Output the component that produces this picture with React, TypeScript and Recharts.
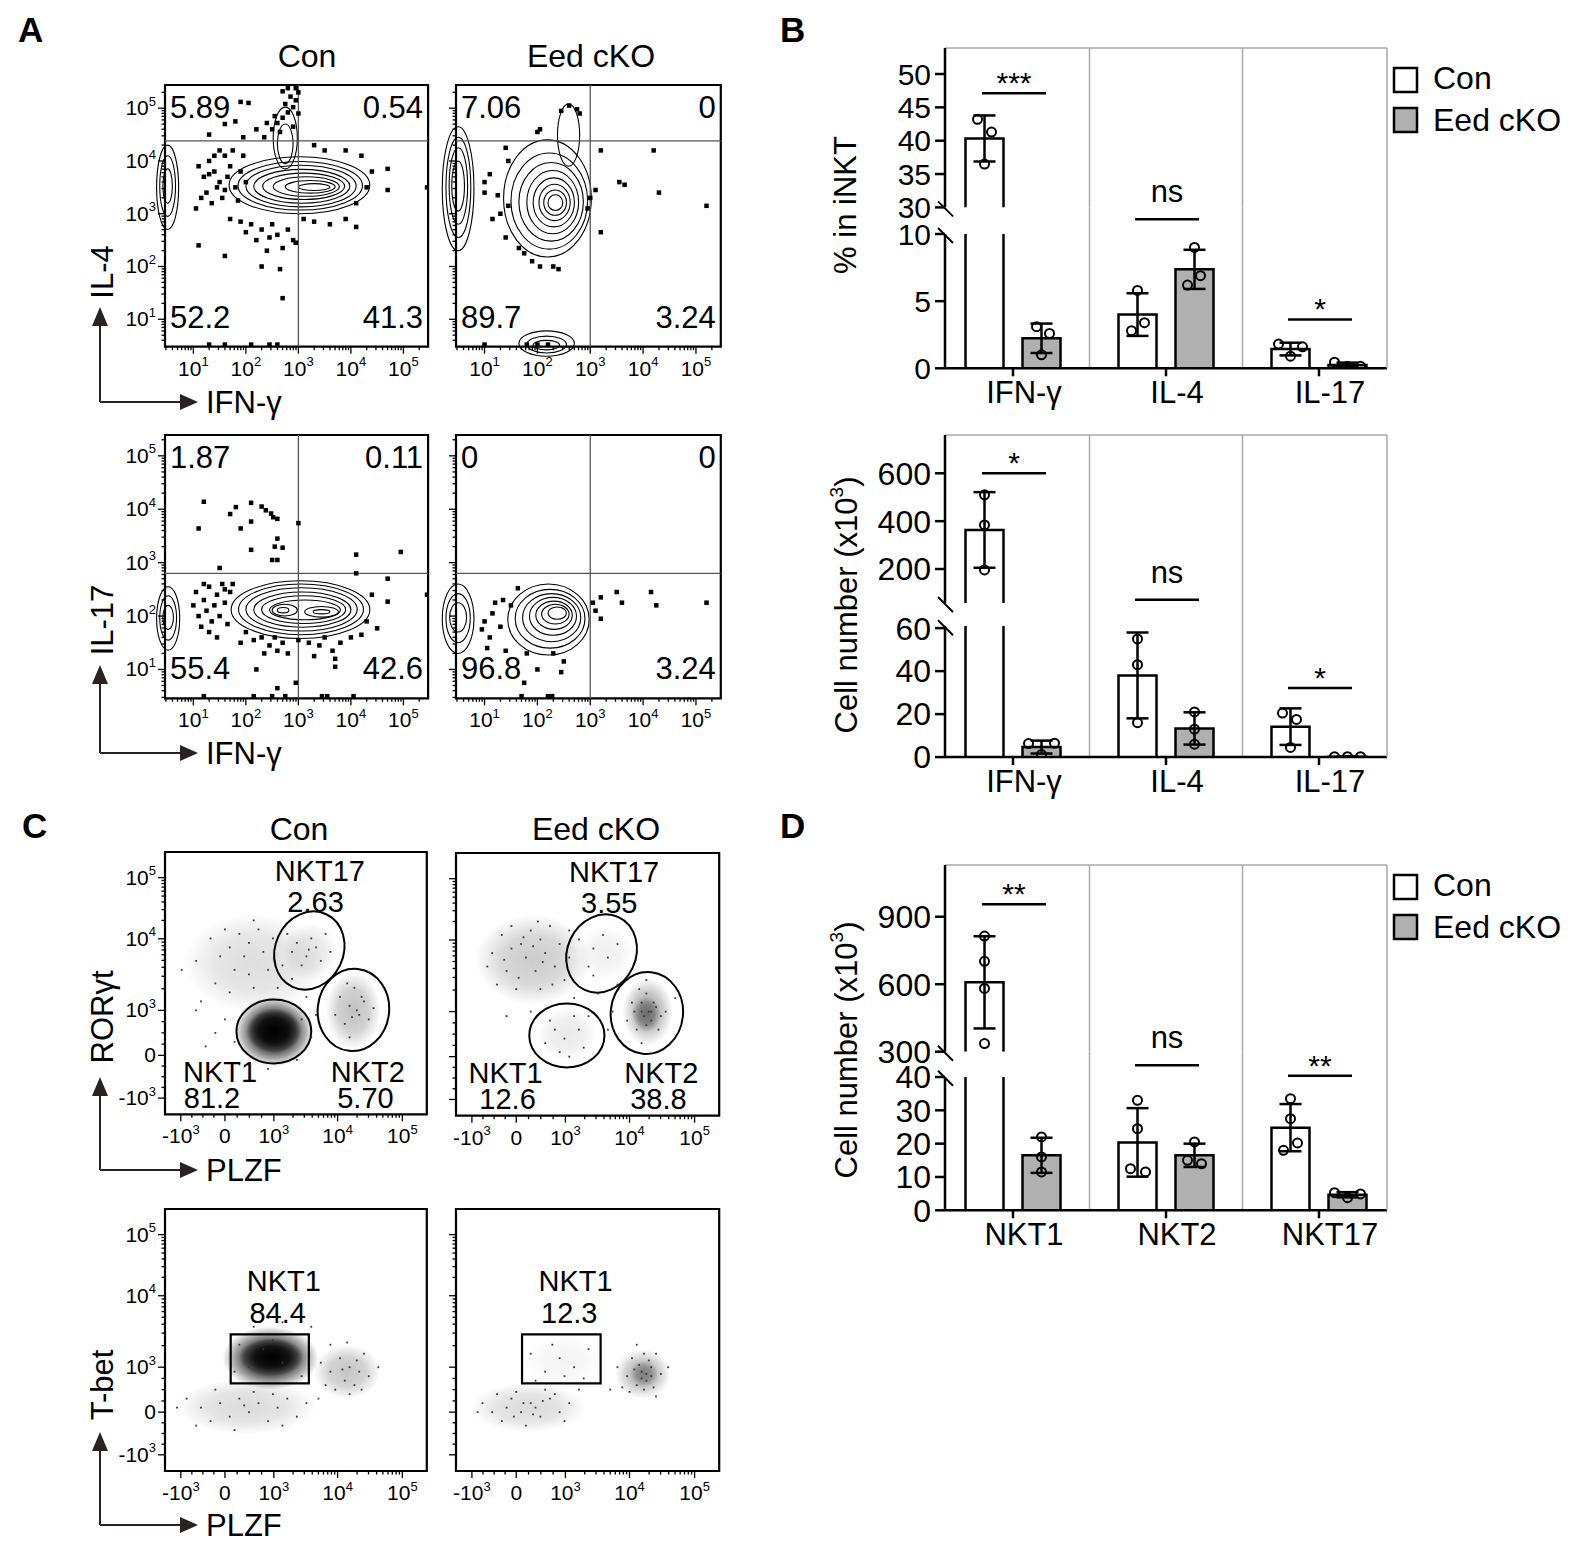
import React from 'react';
import {
  ComposedChart,
  Bar,
  Scatter,
  XAxis,
  YAxis,
  ErrorBar,
  ReferenceLine,
  ReferenceArea,
  ReferenceDot,
} from 'recharts';

const FONT = '"Liberation Sans", Arial, Helvetica, sans-serif';

// ---------------- bar chart data (B, D) ----------------
const cytokines = ['IFN-γ', 'IL-4', 'IL-17'];
const pctCon = [[43.2, 41.3, 36.5], [5.8, 3.4, 2.8], [1.8, 1.6, 0.9]];
const pctEed = [[3.1, 2.6, 1.0], [9.0, 6.9, 6.2], [0.45, 0.15, 0.15]];
const pctSig = ['***', 'ns', '*'];
const pctSigY = [47.1, 11.1, 3.64];

const cytoNumCon = [[510, 384, 196], [55, 43, 16], [20.5, 17.5, 4.5]];
const cytoNumEed = [[6.3, 6.5, 1.2], [21, 13, 6], [0.2, 0.2, 0.2]];
const cytoNumSig = ['*', 'ns', '*'];
const cytoNumSigY = [600, 71.9, 32.1];

const subsets = ['NKT1', 'NKT2', 'NKT17'];
const subsetCon = [[814, 702, 581, 336], [33, 24.5, 12.5, 11.5], [33.5, 27.5, 20.2, 18]];
const subsetEed = [[22, 16, 11.5], [20.5, 15, 14], [5.3, 3.8, 4.9]];
const subsetSig = ['**', 'ns', '**'];
const subsetSigY = [956, 43.5, 40.4];

// ---------------- flow data (A, C), log10 / display units ----------------
const logTicks = [1, 2, 3, 4, 5];
const logTickLabels = ['10^1', '10^2', '10^3', '10^4', '10^5'];
const biexXTicks = [-0.92, 0, 1.02, 2.35, 3.7];
const biexYTicks = [-0.95, 0, 1, 2.59, 3.95];
const biexTickLabels = ['-10^3', '0', '10^3', '10^4', '10^5'];

const aTopConQuad = ['5.89', '0.54', '52.2', '41.3'];
const aTopEedQuad = ['7.06', '0', '89.7', '3.24'];
const aBotConQuad = ['1.87', '0.11', '55.4', '42.6'];
const aBotEedQuad = ['0', '0', '96.8', '3.24'];

const cTopConPct = ['2.63', '81.2', '5.70']; // NKT17, NKT1, NKT2
const cTopEedPct = ['3.55', '12.6', '38.8'];
const cBotConPct = ['84.4'];
const cBotEedPct = ['12.3'];

const aTopConDots = [
  [2.35, 4.45], [2.5, 4.6], [2.6, 4.72], [2.7, 4.82], [2.8, 4.92], [2.9, 5.02], [2.95, 5.15], [3.0, 5.3],
  [2.85, 5.22], [2.75, 5.08], [2.65, 4.55], [2.9, 4.65], [3.0, 4.9], [2.55, 4.85], [2.4, 4.72], [2.2, 4.6],
  [1.95, 4.45], [1.6, 4.7], [1.3, 4.5], [1.8, 4.75], [2.95, 5.38], [2.8, 5.38], [2.7, 5.32], [1.9, 5.12], [2.05, 5.1],
  [1.1, 3.9], [1.2, 3.7], [1.3, 4.0], [1.4, 3.8], [1.5, 3.6], [1.6, 4.1], [1.7, 3.9], [1.25, 3.4], [1.35, 3.2],
  [1.45, 3.5], [1.55, 3.3], [1.65, 3.7], [1.8, 3.5], [1.9, 3.8], [1.15, 3.3], [1.05, 3.1], [1.75, 4.2], [1.95, 4.1],
  [1.5, 4.2], [1.85, 3.25], [2.0, 3.6], [1.4, 4.1], [1.6, 3.45], [1.3, 3.75],
  [1.7, 2.9], [1.9, 2.85], [2.1, 2.8], [2.3, 2.7], [2.5, 2.8], [2.6, 2.6], [2.8, 2.7], [3.1, 2.9], [3.3, 2.85],
  [3.6, 2.8], [3.9, 2.9], [4.1, 2.75], [2.2, 2.5], [2.4, 2.3], [2.7, 2.35], [2.9, 2.5], [1.1, 2.4], [1.6, 2.2],
  [2.3, 2.0], [2.65, 1.95], [2.7, 1.4], [2.95, 2.45], [2.0, 2.65], [2.45, 2.55],
  [4.3, 3.5], [4.4, 3.8], [4.2, 4.1], [4.7, 3.85], [4.7, 3.45], [5.45, 3.5], [4.1, 3.2], [3.9, 4.2], [3.3, 4.3], [3.5, 4.2],
  [1.3, 0.52], [1.6, 0.52], [2.1, 0.52], [2.45, 0.52], [2.6, 0.52],
];
const aTopEedDots = [
  [2.6, 5.05], [2.45, 4.95], [2.8, 4.9], [2.75, 4.98], [2.0, 4.55], [2.05, 4.6], [1.4, 4.25], [1.45, 4.0],
  [1.1, 3.75], [1.0, 3.6], [1.0, 3.4], [1.25, 3.35], [1.45, 3.15], [1.3, 3.0], [1.15, 2.9], [1.4, 2.55],
  [1.9, 2.1], [2.05, 2.0], [2.3, 2.0], [2.4, 1.95], [1.65, 2.35], [1.75, 2.25], [3.2, 4.2], [4.2, 4.2],
  [3.55, 3.6], [3.65, 3.55], [3.1, 3.45], [4.3, 3.4], [5.2, 3.15], [3.2, 2.65], [2.95, 3.1], [3.0, 3.3],
  [1.8, 0.52], [2.0, 0.52], [2.2, 0.52], [1.0, 0.52],
];
const aBotConDots = [
  [1.2, 4.14], [1.1, 3.64], [1.7, 3.91], [1.81, 4.04], [1.9, 3.64], [2.1, 3.77], [2.1, 4.12], [2.3, 4.05],
  [2.38, 3.98], [2.48, 3.92], [2.52, 3.85], [2.6, 3.82], [2.1, 3.24], [2.55, 3.3], [2.7, 3.28], [2.6, 3.45],
  [2.5, 3.05], [2.6, 3.05], [1.5, 2.9], [3.0, 3.74], [4.1, 3.15], [4.1, 2.8], [4.7, 2.7], [4.95, 3.2],
  [1.0, 2.2], [1.05, 2.45], [1.1, 2.0], [1.15, 1.8], [1.2, 2.3], [1.25, 2.1], [1.3, 2.55], [1.35, 1.9],
  [1.4, 2.2], [1.45, 2.4], [1.5, 2.0], [1.55, 2.6], [1.6, 2.25], [1.65, 1.85], [1.7, 2.45], [1.3, 1.7],
  [1.45, 1.6], [1.6, 2.5], [1.2, 2.6], [1.75, 2.6],
  [2.0, 1.7], [2.15, 1.55], [2.3, 1.6], [2.45, 1.45], [2.55, 1.6], [2.6, 1.35], [2.7, 1.5], [2.8, 1.3],
  [3.0, 1.55], [3.2, 1.5], [3.4, 1.45], [3.5, 1.6], [3.65, 1.35], [3.7, 1.2], [3.8, 1.5], [4.0, 1.6],
  [4.2, 1.65], [2.2, 1.0], [3.7, 1.05], [2.95, 0.75], [2.6, 0.65], [1.9, 1.5], [2.35, 1.3], [3.3, 1.25],
  [4.7, 2.27], [5.45, 2.4], [4.5, 1.77], [4.4, 2.4], [4.3, 1.9],
  [1.2, 0.5], [2.15, 0.5], [2.5, 0.5], [2.75, 0.5], [3.45, 0.5], [3.55, 0.5], [4.05, 0.5],
];
const aBotEedDots = [
  [1.63, 2.52], [1.2, 2.25], [1.35, 2.3], [1.5, 2.2], [1.0, 1.9], [0.95, 1.75], [1.3, 1.8], [1.1, 1.6],
  [1.05, 1.4], [1.4, 1.35], [1.8, 1.3], [2.0, 1.0], [2.45, 0.95], [2.5, 1.15], [2.3, 1.3], [1.75, 0.75],
  [1.7, 0.5], [2.2, 0.5], [2.28, 0.5], [3.05, 2.25], [3.2, 2.35], [3.2, 1.95], [3.5, 2.45], [3.6, 2.25],
  [4.15, 2.45], [4.25, 2.2], [5.2, 2.25], [3.1, 2.1], [1.15, 2.05],
];

const cTopConDots = [
  [-0.6, 2.1], [-0.3, 2.6], [0.0, 2.8], [0.1, 2.4], [0.3, 2.7], [0.5, 2.5], [0.7, 2.8], [0.4, 2.2], [0.8, 2.3],
  [1.0, 2.6], [0.2, 1.9], [0.5, 1.8], [0.9, 1.9], [1.2, 2.0], [-0.2, 1.6], [0.1, 1.4], [0.6, 1.5], [1.1, 1.5],
  [1.4, 1.7], [-0.5, 1.2], [-0.9, 1.9], [1.3, 2.7], [0.6, 3.0], [-0.1, 2.2],
  [1.5, 2.5], [1.7, 2.2], [1.9, 2.4], [1.6, 2.0], [2.0, 2.1], [1.8, 2.6], [2.1, 2.7], [1.4, 2.3], [1.75, 2.35], [2.2, 2.3],
  [2.4, 1.3], [2.6, 1.1], [2.8, 0.9], [2.5, 0.7], [2.9, 1.2], [2.7, 1.5], [3.0, 0.8], [2.6, 0.4], [2.3, 0.9],
  [2.75, 1.0], [2.65, 0.85], [2.85, 1.3], [2.55, 1.6], [3.1, 1.05],
  [0.2, 0.3], [0.0, 0.8], [-0.2, 0.5], [1.8, 0.4], [1.9, 0.9], [1.7, 1.3], [0.3, -0.2], [0.9, -0.3],
  [1.5, -0.1], [-0.4, 0.2], [-0.6, 1.0], [1.6, 0.8],
];
const cTopEedDots = [
  [-0.5, 2.3], [-0.3, 2.7], [-0.1, 2.9], [0.1, 2.5], [0.3, 2.8], [0.5, 2.6], [0.7, 2.9], [0.2, 2.2], [0.6, 2.3],
  [0.9, 2.5], [-0.2, 1.9], [0.4, 1.9], [0.8, 2.0], [1.1, 2.2], [-0.4, 1.6], [0.0, 1.5], [0.5, 1.5], [1.0, 1.7],
  [1.3, 2.6], [1.2, 1.3], [-0.1, 2.4], [0.35, 2.45], [0.15, 2.65], [-0.25, 2.15], [0.55, 2.1], [0.05, 1.75],
  [0.75, 1.6], [1.1, 2.8], [-0.6, 2.0], [0.45, 3.0],
  [1.6, 2.4], [1.9, 2.2], [1.8, 2.7], [2.1, 2.5], [1.5, 2.0],
  [2.4, 1.2], [2.6, 1.0], [2.8, 0.8], [2.5, 0.6], [2.9, 1.1], [2.7, 1.4], [3.0, 0.9], [2.6, 0.3], [2.3, 0.8],
  [2.75, 1.0], [2.65, 0.9], [2.85, 1.2], [2.55, 1.5], [3.1, 1.0], [2.7, 0.7], [2.6, 1.2], [2.8, 1.0],
  [2.45, 1.0], [2.95, 0.6], [2.7, 1.7],
  [0.7, 0.8], [1.0, 0.4], [1.3, 0.6], [0.9, 0.1], [1.2, 0.9], [0.6, 0.3], [1.4, 0.2], [0.8, 0.6], [1.1, 0.0], [1.5, 0.9],
  [1.7, 1.4], [1.9, 0.6], [2.0, 1.0], [1.6, 1.8], [0.3, 1.0], [-0.2, 0.9], [2.1, 1.6], [3.3, 1.3],
];
const cBotConDots = [
  [2.0, 1.1], [2.2, 0.9], [2.4, 1.2], [2.5, 0.7], [2.6, 1.0], [2.7, 0.6], [2.8, 0.9], [2.9, 1.3], [2.3, 0.5],
  [2.6, 0.4], [3.0, 0.8], [2.1, 0.6], [2.45, 0.95], [2.75, 1.15], [2.85, 0.5], [3.2, 1.0], [2.2, 1.5], [2.55, 1.55], [1.95, 0.3],
  [-0.8, 0.3], [-0.5, 0.1], [-0.3, -0.2], [-0.1, 0.2], [0.1, -0.1], [0.3, 0.3], [0.5, 0.0], [0.7, 0.2], [0.9, -0.2],
  [1.1, 0.1], [1.3, 0.3], [1.5, -0.1], [1.7, 0.2], [-0.6, -0.3], [0.2, -0.4], [0.6, 0.45], [1.0, 0.4], [-0.2, 0.5],
  [0.4, 0.15], [1.2, -0.3], [-1.0, 0.1],
  [0.3, 1.5], [0.5, 1.0], [0.8, 1.4], [1.2, 1.1], [1.5, 1.3], [0.2, 0.9], [1.6, 0.8], [1.0, 1.6],
  [1.8, 1.9], [0.6, 1.9], [1.2, 2.0], [0.9, 2.1],
];
const cBotEedDots = [
  [2.1, 1.0], [2.3, 0.8], [2.4, 1.2], [2.5, 0.6], [2.6, 0.9], [2.7, 0.7], [2.8, 1.0], [2.9, 1.3], [2.35, 0.45],
  [2.65, 0.5], [3.0, 0.85], [2.2, 0.55], [2.55, 1.05], [2.75, 1.15], [2.85, 0.55], [3.15, 1.0], [2.5, 1.5],
  [2.7, 0.85], [2.6, 0.75], [2.8, 0.8], [2.65, 1.3], [2.45, 0.95], [1.95, 0.5], [2.9, 0.35],
  [-0.7, 0.2], [-0.5, 0.0], [-0.3, -0.2], [-0.1, 0.3], [0.1, 0.0], [0.3, 0.2], [0.5, -0.1], [0.7, 0.3], [0.9, 0.0],
  [1.1, 0.2], [1.3, 0.5], [-0.4, 0.4], [0.2, -0.3], [0.6, 0.5], [0.0, 0.45], [0.4, 0.1], [0.8, 0.4], [-0.2, 0.1],
  [1.0, -0.2], [-0.8, 0.0], [0.15, 0.2], [0.55, 0.25], [0.35, -0.05], [-0.05, -0.1],
  [0.3, 1.3], [0.6, 0.9], [0.9, 1.2], [1.2, 1.0], [1.5, 1.4], [0.4, 0.7], [1.0, 0.8], [1.4, 0.75], [0.75, 1.5],
];

// contour outlines as bounding boxes [x1, x2, y1, y2]
const aTopConContours = [
  [1.68, 4.36, 3.0, 4.08], [1.85, 4.22, 3.07, 3.99], [2.0, 4.1, 3.13, 3.92], [2.15, 3.98, 3.2, 3.84],
  [2.32, 3.88, 3.27, 3.77], [2.52, 3.78, 3.33, 3.7], [2.75, 3.7, 3.39, 3.63], [3.0, 3.6, 3.44, 3.57],
  [2.52, 2.98, 3.85, 5.02], [2.6, 2.9, 3.95, 4.7],
  [0.3, 0.72, 2.7, 4.3], [0.36, 0.66, 2.95, 4.1], [0.42, 0.6, 3.2, 3.85],
];
const aTopEedContours = [
  [1.36, 3.02, 2.18, 4.4], [1.5, 2.95, 2.33, 4.15], [1.65, 2.87, 2.48, 3.97], [1.8, 2.78, 2.62, 3.82],
  [1.92, 2.7, 2.75, 3.68], [2.03, 2.62, 2.87, 3.56], [2.12, 2.55, 2.97, 3.45], [2.2, 2.48, 3.06, 3.36],
  [2.38, 2.8, 3.9, 5.08],
  [0.2, 0.8, 2.3, 4.65], [0.27, 0.74, 2.55, 4.45], [0.33, 0.68, 2.8, 4.25], [0.38, 0.62, 3.05, 4.0],
  [1.65, 2.7, 0.3, 0.78], [1.8, 2.55, 0.36, 0.68], [1.92, 2.42, 0.42, 0.6],
];
const aBotConContours = [
  [1.72, 4.36, 1.58, 2.66], [1.86, 4.24, 1.65, 2.6], [2.0, 4.12, 1.72, 2.53], [2.15, 4.0, 1.79, 2.45],
  [2.3, 3.9, 1.86, 2.38], [2.45, 3.8, 1.93, 2.3], [2.5, 2.98, 2.0, 2.22], [3.12, 3.76, 1.98, 2.18],
  [2.6, 2.82, 2.06, 2.16], [3.28, 3.6, 2.04, 2.12],
  [0.3, 0.74, 1.36, 2.55], [0.36, 0.68, 1.55, 2.38], [0.42, 0.62, 1.75, 2.2],
];
const aBotEedContours = [
  [1.44, 2.98, 1.27, 2.6], [1.58, 2.9, 1.4, 2.5], [1.72, 2.82, 1.52, 2.42], [1.85, 2.74, 1.64, 2.35],
  [1.97, 2.66, 1.75, 2.28], [2.08, 2.6, 1.85, 2.22], [2.2, 2.55, 1.94, 2.17],
  [0.2, 0.8, 1.3, 2.6], [0.27, 0.73, 1.5, 2.42], [0.34, 0.66, 1.7, 2.25],
];

// gates [x1, x2, y1, y2]
const cTopConGates = [[1.05, 2.47, 1.44, 3.22], [1.935, 3.425, 0.095, 1.925], [0.24, 1.8, -0.18, 1.24]];
const cTopEedGates = [[1.06, 2.48, 1.4, 3.18], [1.96, 3.46, 0.06, 1.88], [0.27, 1.83, -0.24, 1.18]];
const gateTilt = [25, 6, 0];
const cBotGate = [[0.12, 1.75, 0.64, 1.73]];

// density clouds [x1, x2, y1, y2]
const cTopConClouds = [[-0.85, 2.05, 0.95, 3.15], [1.2, 2.35, 1.65, 2.95], [2.1, 3.25, 0.15, 1.85], [0.2, 1.85, -0.25, 1.3], [0.45, 1.6, 0.05, 1.05]];
const cTopConTone = [['#888', 0.28], ['#888', 0.22], ['#666', 0.4], ['#000', 0.9], ['#000', 1]];
const cTopEedClouds = [[-0.85, 1.55, 1.15, 3.15], [2.2, 3.25, 0.25, 1.75], [2.4, 3.0, 0.55, 1.35], [0.45, 1.65, -0.1, 1.1], [1.3, 2.4, 1.7, 2.9]];
const cTopEedTone = [['#777', 0.38], ['#555', 0.45], ['#222', 0.5], ['#888', 0.18], ['#999', 0.15]];
const cBotConClouds = [[-0.05, 1.95, 0.5, 1.9], [0.3, 1.65, 0.8, 1.65], [1.85, 3.25, 0.3, 1.5], [-1.0, 1.9, -0.5, 0.75]];
const cBotConTone = [['#000', 0.85], ['#000', 1], ['#666', 0.38], ['#888', 0.3]];
const cBotEedClouds = [[2.05, 3.2, 0.3, 1.4], [2.35, 2.95, 0.55, 1.15], [-0.95, 1.45, -0.45, 0.65], [0.2, 1.8, 0.6, 1.7]];
const cBotEedTone = [['#555', 0.42], ['#222', 0.4], ['#888', 0.3], ['#aaa', 0.12]];

// ---------------- helpers ----------------
const mean = (a: number[]) => a.reduce((s, v) => s + v, 0) / a.length;
const sd = (a: number[]) => {
  const m = mean(a);
  return Math.sqrt(a.reduce((s, v) => s + (v - m) * (v - m), 0) / (a.length - 1));
};

const logMinor = (lo: number, hi: number) => {
  const out: number[] = [];
  for (let d = 0; d <= 5; d++) for (let k = 2; k <= 9; k++) {
    const v = d + Math.log10(k);
    if (v > lo && v < hi) out.push(v);
  }
  return out;
};
const biexMinor = (maj: number[]) => {
  const out: number[] = [];
  [0.25, 0.5, 0.75].forEach((f) => { out.push(maj[0] * f); out.push(maj[2] * f); });
  for (let k = 2; k <= 9; k++) {
    out.push(maj[2] + Math.log10(k) * (maj[3] - maj[2]));
    out.push(maj[3] + Math.log10(k) * (maj[4] - maj[3]));
  }
  return out;
};

function SupText({ x, y, label, anchor, size }: any) {
  const [base, exp] = label.split('^');
  return (
    <text x={x} y={y} textAnchor={anchor} fontSize={size} fill="#000" fontFamily={FONT}>
      {base}
      {exp ? <tspan dy={-size * 0.45} fontSize={size * 0.62}>{exp}</tspan> : null}
    </text>
  );
}

// ---------------- bar panels ----------------
const BAR = 38;
const GAP = 19;
const HALF = 28.5;
const PL = 945;
const PR = 1387;
const CL = 835;
const MR = 20;
const PAD = -8.5;
const FRAME = '#a8a8a8';
const EED_FILL = '#b0b0b0';

const openBar = (p: any) => {
  const { x, y, width, height, fill } = p;
  if (p.value == null || !isFinite(y) || !isFinite(height)) return <g />;
  return (
    <g>
      <rect x={x} y={y} width={width} height={height} fill={fill} />
      <path d={`M${x},${y + height}V${y}H${x + width}V${y + height}`} fill="none" stroke="#000" strokeWidth={2.5} />
    </g>
  );
};

function BarPanel({ cats, con, eed, sig, sigY, up, lo, tickFont, conJit, eedJit }: any) {
  const W = PR - CL + MR;
  const UPM = 30;
  const UPB = 22;
  const LOM = 70;
  const XH = 52;
  const upH = up.bottom - up.top;
  const loH = lo.bottom - lo.top;
  const ppuLo = loH / (lo.domain[1] - lo.domain[0]);
  const gapVal = lo.domain[1] + (lo.top - up.bottom) / ppuLo;

  const rows = (seg: any, isUp: boolean) =>
    cats.map((c: string, i: number) => {
      const inSeg = (v: number) => (isUp ? v >= seg.domain[0] : v <= seg.domain[1]);
      const r: any = { cat: c };
      const cm = mean(con[i]);
      const em = mean(eed[i]);
      r.con = isUp && cm < seg.domain[0] ? null : cm;
      r.conSd = inSeg(cm) ? sd(con[i]) : null;
      r.eed = isUp && em < seg.domain[0] ? null : em;
      r.eedSd = inSeg(em) ? sd(eed[i]) : null;
      con[i].forEach((v: number, j: number) => { r['c' + j] = inSeg(v) ? v : null; });
      eed[i].forEach((v: number, j: number) => { r['e' + j] = inSeg(v) ? v : null; });
      return r;
    });

  const dot = (side: number, jit: number[][], j: number) => (p: any) => {
    if (p.cy == null || !isFinite(p.cy) || p.cx == null) return <g />;
    const i = cats.indexOf(p.payload.cat);
    const dx = side * HALF + ((jit[i] && jit[i][j]) || 0);
    return <circle cx={p.cx + dx} cy={p.cy} r={4.5} fill="none" stroke="#000" strokeWidth={2} />;
  };

  const yAxisProps = {
    type: 'number' as const,
    allowDataOverflow: true,
    interval: 0,
    width: PL - CL,
    tickSize: 10,
    tickMargin: 4,
    tick: { fontSize: tickFont, fill: '#000', fontFamily: FONT },
    axisLine: { stroke: '#000', strokeWidth: 2.5 },
    tickLine: { stroke: '#000', strokeWidth: 2.5 },
  };

  const sigLine = (p: any) => (
    <line x1={p.x1 - 31} y1={p.y1} x2={p.x1 + 33} y2={p.y1} stroke="#000" strokeWidth={2.5} />
  );

  const series = (isUp: boolean) => {
    const els: any[] = [];
    els.push(
      <Bar key="bc" dataKey="con" fill="#fff" barSize={BAR} shape={openBar} isAnimationActive={false}>
        <ErrorBar dataKey="conSd" width={11} stroke="#000" strokeWidth={2.5} direction="y" />
      </Bar>,
    );
    els.push(
      <Bar key="be" dataKey="eed" fill={EED_FILL} barSize={BAR} shape={openBar} isAnimationActive={false}>
        <ErrorBar dataKey="eedSd" width={11} stroke="#000" strokeWidth={2.5} direction="y" />
      </Bar>,
    );
    const nc = Math.max(...con.map((a: number[]) => a.length));
    const ne = Math.max(...eed.map((a: number[]) => a.length));
    for (let j = 0; j < nc; j++) {
      els.push(<Scatter key={'sc' + j} dataKey={'c' + j} shape={dot(-1, conJit, j)} isAnimationActive={false} />);
    }
    for (let j = 0; j < ne; j++) {
      els.push(<Scatter key={'se' + j} dataKey={'e' + j} shape={dot(1, eedJit, j)} isAnimationActive={false} />);
    }
    sig.forEach((s: string, k: number) => {
      const belongsUp = sigY[k] >= up.domain[0];
      if (belongsUp !== isUp) return;
      els.push(
        <ReferenceLine
          key={'sl' + k}
          segment={[{ x: cats[k], y: sigY[k] }, { x: cats[k], y: sigY[k] }]}
          ifOverflow="visible"
          shape={sigLine}
        />,
      );
      els.push(
        <ReferenceDot
          key={'st' + k}
          x={cats[k]}
          y={sigY[k]}
          r={0}
          ifOverflow="visible"
          shape={(p: any) => (
            <text
              x={p.cx + 1}
              y={p.cy - (s === 'ns' ? 17 : 0)}
              textAnchor="middle"
              fontSize={s === 'ns' ? 31 : 30}
              fill="#000"
              fontFamily={FONT}
            >
              {s}
            </text>
          )}
        />,
      );
    });
    return els;
  };

  // frame separators at category boundaries
  const seps = [cats[1], cats[2]];

  return (
    <>
      <div style={{ position: 'absolute', left: CL, top: up.top - UPM }}>
        <ComposedChart
          width={W}
          height={UPM + upH + UPB}
          data={rows(up, true)}
          margin={{ top: UPM, right: MR, left: 0, bottom: UPB }}
          barGap={GAP}
          barSize={BAR}
        >
          <XAxis dataKey="cat" type="category" hide height={0} padding={{ left: PAD, right: PAD }} />
          <YAxis {...yAxisProps} domain={up.domain} ticks={up.ticks} />
          <ReferenceLine y={up.domain[1]} stroke={FRAME} strokeWidth={1.5} ifOverflow="visible" />
          {seps.map((c, k) => (
            <ReferenceLine key={'u' + k} x={c} position="start" stroke={FRAME} strokeWidth={1.5} ifOverflow="visible" />
          ))}
          {series(true)}
        </ComposedChart>
      </div>
      <div style={{ position: 'absolute', left: CL, top: lo.top - LOM }}>
        <ComposedChart
          width={W}
          height={LOM + loH + XH}
          data={rows(lo, false)}
          margin={{ top: LOM, right: MR, left: 0, bottom: 0 }}
          barGap={GAP}
          barSize={BAR}
        >
          <XAxis
            dataKey="cat"
            type="category"
            height={XH}
            padding={{ left: PAD, right: PAD }}
            interval={0}
            tickSize={8}
            tickMargin={0}
            axisLine={{ stroke: '#000', strokeWidth: 2.5 }}
            tickLine={{ stroke: '#000', strokeWidth: 2.5 }}
            tick={(p: any) => (
              <text x={p.x + 11} y={p.y + 27} textAnchor="middle" fontSize={31} fill="#000" fontFamily={FONT}>
                {p.payload.value}
              </text>
            )}
          />
          <YAxis {...yAxisProps} domain={lo.domain} ticks={lo.ticks} />
          {seps.map((c, k) => (
            <ReferenceLine key={'l' + k} x={c} position="start" stroke={FRAME} strokeWidth={1.5} ifOverflow="visible" />
          ))}
          {seps.map((c, k) => (
            <ReferenceLine
              key={'g' + k}
              position="start"
              segment={[{ x: c, y: lo.domain[1] }, { x: c, y: gapVal }]}
              stroke={FRAME}
              strokeWidth={1.5}
              ifOverflow="visible"
            />
          ))}
          {series(false)}
        </ComposedChart>
      </div>
    </>
  );
}

// ---------------- flow panels ----------------
const ellipseShape = (stroke: number, tilt: number) => (p: any) => {
  const cx = p.x + p.width / 2;
  const cy = p.y + p.height / 2;
  return (
    <ellipse
      cx={cx}
      cy={cy}
      rx={Math.abs(p.width) / 2}
      ry={Math.abs(p.height) / 2}
      fill="none"
      stroke="#000"
      strokeWidth={stroke}
      transform={tilt ? `rotate(${tilt} ${cx} ${cy})` : undefined}
    />
  );
};

const cloudShape = (gid: string, col: string, op: number) => (p: any) => (
  <g>
    <defs>
      <radialGradient id={gid} cx="50%" cy="50%" r="50%">
        <stop offset="0%" stopColor={col} stopOpacity={op} />
        <stop offset="55%" stopColor={col} stopOpacity={op * 0.75} />
        <stop offset="100%" stopColor={col} stopOpacity={0} />
      </radialGradient>
    </defs>
    <ellipse cx={p.x + p.width / 2} cy={p.y + p.height / 2} rx={p.width / 2} ry={p.height / 2} fill={`url(#${gid})`} />
  </g>
);

function FlowPlot({ c }: any) {
  const ML = 70;
  const MT = 10;
  const MR2 = 10;
  const XH = 50;
  const pts = c.dots.map(([x, y]: number[]) => ({ x, y }));
  const findMaj = (arr: number[], v: number) => arr.findIndex((m) => Math.abs(m - v) < 1e-6);
  const xTick = (p: any) => {
    const i = findMaj(c.xMaj, p.payload.value);
    return (
      <g>
        <line x1={p.x} x2={p.x} y1={p.y} y2={p.y + (i >= 0 ? 7 : 3.5)} stroke="#000" strokeWidth={1.3} />
        {i >= 0 && <SupText x={p.x} y={p.y + 29} label={c.xLab[i]} anchor="middle" size={21} />}
      </g>
    );
  };
  const yTick = (p: any) => {
    const i = findMaj(c.yMaj, p.payload.value);
    return (
      <g>
        <line x1={p.x} x2={p.x - (i >= 0 ? 7 : 3.5)} y1={p.y} y2={p.y} stroke="#000" strokeWidth={1.3} />
        {i >= 0 && c.showY && <SupText x={p.x - 9} y={p.y + 7} label={c.yLab[i]} anchor="end" size={21} />}
      </g>
    );
  };
  const [x0, x1] = c.xDom;
  const [y0, y1] = c.yDom;
  const q = c.quadText;
  const quadPos = q
    ? [
        { x: x0, y: y1, dx: 5, dy: 33, a: 'start' },
        { x: x1, y: y1, dx: -5, dy: 33, a: 'end' },
        { x: x0, y: y0, dx: 5, dy: -19, a: 'start' },
        { x: x1, y: y0, dx: -5, dy: -19, a: 'end' },
      ]
    : [];
  return (
    <div style={{ position: 'absolute', left: c.left - ML, top: c.top - MT }}>
      <ComposedChart width={ML + c.w + MR2} height={MT + c.h + XH} margin={{ top: MT, right: MR2, left: 0, bottom: 0 }}>
        <XAxis
          type="number"
          dataKey="x"
          domain={c.xDom}
          allowDataOverflow
          ticks={[...c.xMaj, ...c.xMin]}
          interval={0}
          tickSize={0}
          tickMargin={0}
          axisLine={false}
          tickLine={false}
          tick={xTick}
          height={XH}
        />
        <YAxis
          type="number"
          dataKey="y"
          domain={c.yDom}
          allowDataOverflow
          ticks={[...c.yMaj, ...c.yMin]}
          interval={0}
          tickSize={0}
          tickMargin={0}
          axisLine={false}
          tickLine={false}
          tick={yTick}
          width={ML}
        />
        {(c.clouds || []).map((b: number[], i: number) => (
          <ReferenceArea
            key={'cl' + i}
            x1={b[0]}
            x2={b[1]}
            y1={b[2]}
            y2={b[3]}
            ifOverflow="hidden"
            shape={cloudShape(`${c.uid}-g${i}`, c.tone[i][0], c.tone[i][1])}
          />
        ))}
        <Scatter
          data={pts}
          isAnimationActive={false}
          shape={(p: any) => (
            <rect x={p.cx - c.dotSize / 2} y={p.cy - c.dotSize / 2} width={c.dotSize} height={c.dotSize} fill={c.dotColor} />
          )}
        />
        {(c.contours || []).map((b: number[], i: number) => (
          <ReferenceArea key={'ct' + i} x1={b[0]} x2={b[1]} y1={b[2]} y2={b[3]} ifOverflow="hidden" shape={ellipseShape(1.1, 0)} />
        ))}
        {(c.gates || []).map((b: number[], i: number) => (
          <ReferenceArea key={'gt' + i} x1={b[0]} x2={b[1]} y1={b[2]} y2={b[3]} ifOverflow="hidden" shape={ellipseShape(2, gateTilt[i])} />
        ))}
        {(c.boxes || []).map((b: number[], i: number) => (
          <ReferenceArea key={'bx' + i} x1={b[0]} x2={b[1]} y1={b[2]} y2={b[3]} ifOverflow="hidden" fill="none" stroke="#000" strokeWidth={2.2} />
        ))}
        {c.quad && <ReferenceLine x={c.quad[0]} stroke="#555" strokeWidth={1.3} />}
        {c.quad && <ReferenceLine y={c.quad[1]} stroke="#555" strokeWidth={1.3} />}
        <ReferenceArea x1={x0} x2={x1} y1={y0} y2={y1} ifOverflow="visible" fill="none" fillOpacity={0} stroke="#000" strokeWidth={2.2} />
        {quadPos.map((qp: any, i: number) => (
          <ReferenceDot
            key={'qt' + i}
            x={qp.x}
            y={qp.y}
            r={0}
            ifOverflow="visible"
            shape={(p: any) => (
              <text x={p.cx + qp.dx} y={p.cy + qp.dy} textAnchor={qp.a} fontSize={31} fill="#000" fontFamily={FONT}>
                {q[i]}
              </text>
            )}
          />
        ))}
        {(c.texts || []).map((t: any, i: number) => (
          <ReferenceDot
            key={'tx' + i}
            x={t.x}
            y={t.y}
            r={0}
            ifOverflow="visible"
            shape={(p: any) => (
              <text x={p.cx} y={p.cy} textAnchor="middle" fontSize={29} fill="#000" fontFamily={FONT}>
                {t.t}
              </text>
            )}
          />
        ))}
      </ComposedChart>
    </div>
  );
}

const aX = { xDom: [0.46, 5.47], xMaj: logTicks, xLab: logTickLabels, xMin: logMinor(0.46, 5.47), yMaj: logTicks, yLab: logTickLabels };
const cX = {
  xDom: [-1.25, 4.21],
  yDom: [-1.31, 4.52],
  xMaj: biexXTicks,
  xLab: biexTickLabels,
  xMin: biexMinor(biexXTicks),
  yMaj: biexYTicks,
  yLab: biexTickLabels,
  yMin: biexMinor(biexYTicks),
  dotSize: 1.8,
  dotColor: '#3a3a3a',
};

const gateLabelPos = (pct: string[], xs: number[]) => [
  { t: 'NKT17', x: xs[0], y: 3.87 },
  { t: pct[0], x: xs[1], y: 3.18 },
  { t: 'NKT1', x: xs[2], y: -0.59 },
  { t: pct[1], x: xs[3], y: -1.17 },
  { t: 'NKT2', x: xs[4], y: -0.59 },
  { t: pct[2], x: xs[5], y: -1.17 },
];

const flows = [
  { ...aX, uid: 'a1', left: 165.4, top: 85, w: 263.1, h: 261.7, yDom: [0.48, 5.44], yMin: logMinor(0.48, 5.44), showY: true, dots: aTopConDots, dotSize: 4.5, dotColor: '#000', contours: aTopConContours, quad: [3.0, 4.38], quadText: aTopConQuad },
  { ...aX, uid: 'a2', left: 455.8, top: 85, w: 264.8, h: 261.7, yDom: [0.48, 5.44], yMin: logMinor(0.48, 5.44), showY: false, dots: aTopEedDots, dotSize: 4.5, dotColor: '#000', contours: aTopEedContours, quad: [3.0, 4.38], quadText: aTopEedQuad },
  { ...aX, uid: 'a3', left: 165.4, top: 435, w: 263.1, h: 263.3, yDom: [0.46, 5.39], yMin: logMinor(0.46, 5.39), showY: true, dots: aBotConDots, dotSize: 4.5, dotColor: '#000', contours: aBotConContours, quad: [3.0, 2.8], quadText: aBotConQuad },
  { ...aX, uid: 'a4', left: 455.8, top: 435, w: 264.8, h: 263.3, yDom: [0.46, 5.39], yMin: logMinor(0.46, 5.39), showY: false, dots: aBotEedDots, dotSize: 4.5, dotColor: '#000', contours: aBotEedContours, quad: [3.0, 2.8], quadText: aBotEedQuad },
  { ...cX, uid: 'c1', left: 165.4, top: 851.7, w: 261.8, h: 262.3, showY: true, dots: cTopConDots, clouds: cTopConClouds, tone: cTopConTone, gates: cTopConGates, texts: gateLabelPos(cTopConPct, [1.98, 1.89, -0.1, -0.27, 2.98, 2.93]) },
  { ...cX, uid: 'c2', left: 455.8, top: 853, w: 263.2, h: 262.7, showY: false, dots: cTopEedDots, clouds: cTopEedClouds, tone: cTopEedTone, gates: cTopEedGates, texts: gateLabelPos(cTopEedPct, [2.03, 1.93, -0.22, -0.18, 3.01, 2.95]) },
  { ...cX, uid: 'c3', left: 165.4, top: 1209, w: 261.8, h: 262, showY: true, dots: cBotConDots, clouds: cBotConClouds, tone: cBotConTone, boxes: cBotGate, texts: [{ t: 'NKT1', x: 1.23, y: 2.69 }, { t: cBotConPct[0], x: 1.1, y: 1.99 }] },
  { ...cX, uid: 'c4', left: 455.8, top: 1209, w: 263.2, h: 262, showY: false, dots: cBotEedDots, clouds: cBotEedClouds, tone: cBotEedTone, boxes: cBotGate, texts: [{ t: 'NKT1', x: 1.23, y: 2.69 }, { t: cBotEedPct[0], x: 1.1, y: 1.99 }] },
];

// ---------------- decorations ----------------
const ARROW = '#2b2220';

function AxisArrows({ y, apex, label }: any) {
  return (
    <g>
      <line x1={100} y1={y} x2={100} y2={apex + 16} stroke={ARROW} strokeWidth={2} />
      <polygon points={`100,${apex} 92,${apex + 19} 108,${apex + 19}`} fill={ARROW} />
      <line x1={100} y1={y} x2={182} y2={y} stroke={ARROW} strokeWidth={2} />
      <polygon points={`198,${y} 180,${y - 8} 180,${y + 8}`} fill={ARROW} />
      <text x={206} y={y + 11} fontSize={31} fill="#000" fontFamily={FONT}>{label}</text>
    </g>
  );
}

function RotLabel({ x, y, children, size = 31 }: any) {
  return (
    <text
      x={x}
      y={y}
      transform={`rotate(-90 ${x} ${y})`}
      textAnchor="middle"
      dominantBaseline="central"
      fontSize={size}
      fill="#000"
      fontFamily={FONT}
    >
      {children}
    </text>
  );
}

function Legend({ top }: any) {
  return (
    <g>
      <rect x={1394} y={top} width={23} height={24} fill="#fff" stroke="#000" strokeWidth={2.5} />
      <text x={1433} y={top + 21} fontSize={32} fill="#000" fontFamily={FONT}>Con</text>
      <rect x={1394} y={top + 40} width={23} height={24} fill={EED_FILL} stroke="#000" strokeWidth={2.5} />
      <text x={1433} y={top + 63} fontSize={32} fill="#000" fontFamily={FONT}>Eed cKO</text>
    </g>
  );
}

const breakEdges = [207.4, 234, 603, 626.2, 1051.7, 1076.7];
// right edge of each bar panel's frame (top of upper segment to x axis)
const frameRight = [[48, 368.3], [435, 757.3], [865, 1210]];

const bTop = {
  up: { domain: [30, 53.9], ticks: [30, 35, 40, 45, 50], top: 48, bottom: 207.4 },
  lo: { domain: [0, 10], ticks: [0, 5, 10], top: 234, bottom: 368.3 },
};
const bBot = {
  up: { domain: [58, 760], ticks: [200, 400, 600], top: 435, bottom: 603 },
  lo: { domain: [0, 61], ticks: [0, 20, 40, 60], top: 626.2, bottom: 757.3 },
};
const dPan = {
  up: { domain: [300, 1130], ticks: [300, 600, 900], top: 865, bottom: 1051.7 },
  lo: { domain: [0, 40], ticks: [0, 10, 20, 30, 40], top: 1076.7, bottom: 1210 },
};

export default function App() {
  return (
    <div
      style={{
        position: 'absolute',
        left: 0,
        top: 0,
        width: 1571,
        height: 1551,
        background: '#fff',
        fontFamily: FONT,
        overflow: 'hidden',
      }}
    >
      {flows.map((c) => (
        <FlowPlot key={c.uid} c={c} />
      ))}

      <BarPanel
        cats={cytokines}
        con={pctCon}
        eed={pctEed}
        sig={pctSig}
        sigY={pctSigY}
        up={bTop.up}
        lo={bTop.lo}
        tickFont={30}
        conJit={[[-7, 7, 0], [0, 7, -6], [-12, 12, 0]]}
        eedJit={[[-5, 8, 0], [0, 6, -7], [-13, 0, 13]]}
      />
      <BarPanel
        cats={cytokines}
        con={cytoNumCon}
        eed={cytoNumEed}
        sig={cytoNumSig}
        sigY={cytoNumSigY}
        up={bBot.up}
        lo={bBot.lo}
        tickFont={32}
        conJit={[[0, 0, 0], [0, 0, 0], [-8, 6, 0]]}
        eedJit={[[-13, 13, 0], [0, 0, 0], [-13, 0, 13]]}
      />
      <BarPanel
        cats={subsets}
        con={subsetCon}
        eed={subsetEed}
        sig={subsetSig}
        sigY={subsetSigY}
        up={dPan.up}
        lo={dPan.lo}
        tickFont={32}
        conJit={[[0, 0, 0, 0], [0, 0, -7, 8], [0, 0, 7, -7]]}
        eedJit={[[0, 0, 0], [0, -7, 7], [-13, 0, 13]]}
      />

      <svg width={1571} height={1551} style={{ position: 'absolute', left: 0, top: 0, pointerEvents: 'none' }}>
        <text x={18} y={42} fontSize={35} fontWeight="bold" fontFamily={FONT}>A</text>
        <text x={780} y={42} fontSize={35} fontWeight="bold" fontFamily={FONT}>B</text>
        <text x={22} y={838} fontSize={35} fontWeight="bold" fontFamily={FONT}>C</text>
        <text x={780} y={838} fontSize={35} fontWeight="bold" fontFamily={FONT}>D</text>

        <text x={307} y={67} textAnchor="middle" fontSize={32} fontFamily={FONT}>Con</text>
        <text x={591} y={67} textAnchor="middle" fontSize={32} fontFamily={FONT}>Eed cKO</text>
        <text x={299} y={840} textAnchor="middle" fontSize={32} fontFamily={FONT}>Con</text>
        <text x={596} y={840} textAnchor="middle" fontSize={32} fontFamily={FONT}>Eed cKO</text>

        <RotLabel x={102} y={272}>IL-4</RotLabel>
        <RotLabel x={102} y={620}>IL-17</RotLabel>
        <RotLabel x={102} y={1017}>RORγt</RotLabel>
        <RotLabel x={102} y={1385}>T-bet</RotLabel>

        <AxisArrows y={402} apex={307} label="IFN-γ" />
        <AxisArrows y={753} apex={665} label="IFN-γ" />
        <AxisArrows y={1170} apex={1077} label="PLZF" />
        <AxisArrows y={1525} apex={1432} label="PLZF" />

        <RotLabel x={845} y={205}>% in iNKT</RotLabel>
        <RotLabel x={846} y={605}>
          Cell number (x10<tspan dy={-10} fontSize={19}>3</tspan><tspan dy={10}>)</tspan>
        </RotLabel>
        <RotLabel x={846} y={1050}>
          Cell number (x10<tspan dy={-10} fontSize={19}>3</tspan><tspan dy={10}>)</tspan>
        </RotLabel>

        <Legend top={68} />
        <Legend top={875} />

        {frameRight.map(([a, b], i) => (
          <line key={'fr' + i} x1={PR} y1={a} x2={PR} y2={b} stroke={FRAME} strokeWidth={1.5} />
        ))}
        {breakEdges.map((e, i) => (
          <line key={i} x1={PL - 7} y1={e - 6} x2={PL + 8} y2={e + 9} stroke="#000" strokeWidth={2} />
        ))}
      </svg>
    </div>
  );
}
